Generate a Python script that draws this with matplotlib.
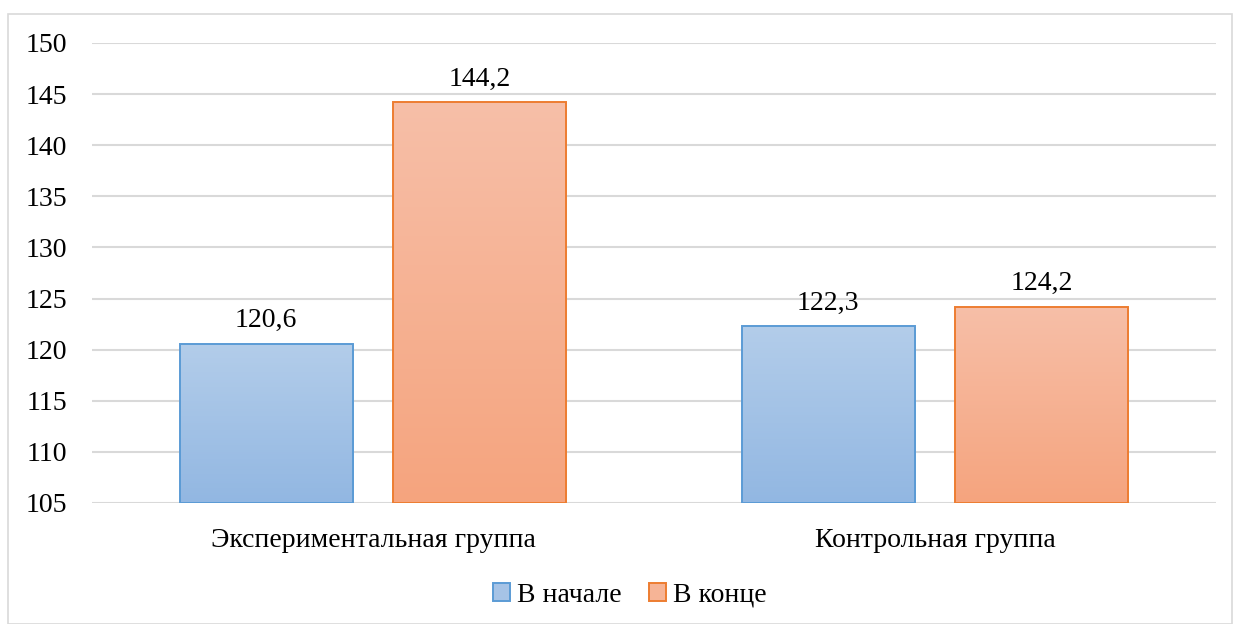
import numpy as np
import matplotlib.pyplot as plt
from matplotlib.patches import Rectangle
from matplotlib.colors import LinearSegmentedColormap

plt.rcParams["font.family"] = ["Liberation Serif", "DejaVu Serif"]

categories = ["Экспериментальная группа", "Контрольная группа"]
series = ["В начале", "В конце"]
start_vals = [120.6, 122.3]
end_vals = [144.2, 124.2]
labels_start = ["120,6", "122,3"]
labels_end = ["144,2", "124,2"]
yticks = [105, 110, 115, 120, 125, 130, 135, 140, 145, 150]

# gradient colours (top, bottom) and edges
blue_grad = ("#b3cdea", "#92b7e2")
orange_grad = ("#f7bfa8", "#f5a47e")
blue_edge = "#5b9bd5"
orange_edge = "#ed7d31"

FS = 20

fig = plt.figure(figsize=(12.33, 6.24), dpi=100)
ax = fig.add_axes([92 / 1233, 1 - 503 / 624, (1216 - 92) / 1233, (503 - 43) / 624])

# outer chart border
fig.patches.append(Rectangle((8 / 1233, 0), 1224 / 1233, 1 - 14 / 624,
                             transform=fig.transFigure, fill=False,
                             edgecolor="#d9d9d9", linewidth=1.2))

ymin, ymax = 105, 150
ax.set_ylim(ymin, ymax)
ax.set_xlim(-0.5, 1.5)

width = 0.308
off = 0.19
x = np.arange(len(categories))


def grad_bar(xc, val, grad, edge):
    cmap = LinearSegmentedColormap.from_list("g", [grad[1], grad[0]])
    grid = np.linspace(0, 1, 256).reshape(-1, 1)
    im = ax.imshow(grid, cmap=cmap, origin="lower", aspect="auto",
                   extent=[xc - width / 2, xc + width / 2, ymin, val], zorder=2)
    r = Rectangle((xc - width / 2, ymin), width, val - ymin, fill=False,
                  edgecolor=edge, linewidth=1.4, zorder=3)
    ax.add_patch(r)
    im.set_clip_path(r)


def value_label(xc, val, txt):
    ax.annotate(txt, (xc, val), xytext=(0, 12), textcoords="offset points",
                ha="center", va="baseline", fontsize=FS, color="#000000")


for i in range(len(categories)):
    grad_bar(x[i] - off, start_vals[i], blue_grad, blue_edge)
    grad_bar(x[i] + off, end_vals[i], orange_grad, orange_edge)
    value_label(x[i] - off, start_vals[i], labels_start[i])
    value_label(x[i] + off, end_vals[i], labels_end[i])

ax.set_yticks(yticks)
ax.set_yticklabels([str(t) for t in yticks], fontsize=FS)
ax.set_xticks(x)
ax.set_xticklabels(categories, fontsize=FS)
ax.tick_params(axis="both", length=0)
ax.tick_params(axis="x", pad=18)
ax.tick_params(axis="y", pad=18)
ax.grid(axis="y", color="#d9d9d9", linewidth=1.5, zorder=0)
ax.set_axisbelow(True)
for s in ax.spines.values():
    s.set_visible(False)

# legend
handles = [Rectangle((0, 0), 1, 1, facecolor="#a6c3e6", edgecolor=blue_edge, linewidth=1.4),
           Rectangle((0, 0), 1, 1, facecolor="#f6b496", edgecolor=orange_edge, linewidth=1.4)]
fig.legend(handles, series, loc="center", bbox_to_anchor=(630 / 1233, 1 - 595 / 624),
           ncol=2, frameon=False, fontsize=FS, handlelength=0.6, handleheight=0.6,
           handletextpad=0.25, columnspacing=1.0)

fig.savefig("out.png", dpi=100)
